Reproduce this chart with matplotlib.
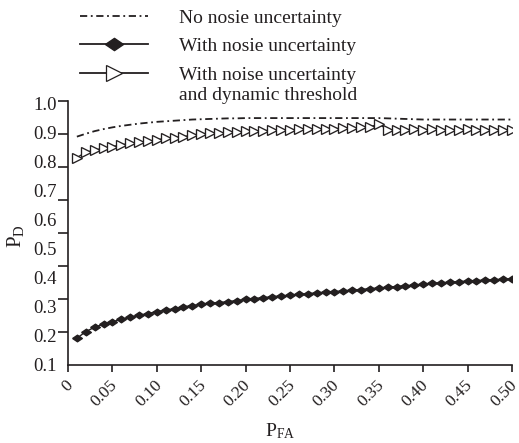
import numpy as np
import matplotlib
matplotlib.use("Agg")
import matplotlib.pyplot as plt
from matplotlib.lines import Line2D
from matplotlib.transforms import ScaledTranslation

plt.rcParams["font.family"] = ["Liberation Serif", "DejaVu Serif"]
plt.rcParams["mathtext.fontset"] = "custom"
plt.rcParams["mathtext.rm"] = "Liberation Serif"
plt.rcParams["mathtext.it"] = "Liberation Serif:italic"
plt.rcParams["font.size"] = 12

# False-alarm probability grid
pfa = [round(0.01 * k, 2) for k in range(1, 51)]

# Detection probability without noise uncertainty
pd_no_uncertainty = [
    0.887, 0.897, 0.906, 0.913, 0.919, 0.924, 0.928, 0.932, 0.935, 0.938,
    0.940, 0.942, 0.944, 0.946, 0.947, 0.948, 0.949, 0.950, 0.950, 0.951,
    0.951, 0.951, 0.951, 0.951, 0.951, 0.951, 0.951, 0.951, 0.951, 0.951,
    0.951, 0.951, 0.951, 0.951, 0.951, 0.950, 0.949, 0.948, 0.947, 0.946,
    0.946, 0.946, 0.946, 0.946, 0.946, 0.946, 0.946, 0.946, 0.946, 0.946,
]

# Detection probability with noise uncertainty
pd_uncertainty = [
    0.192, 0.215, 0.230, 0.241, 0.249, 0.257, 0.265, 0.271, 0.277, 0.284,
    0.289, 0.294, 0.300, 0.305, 0.309, 0.312, 0.315, 0.318, 0.322, 0.326,
    0.329, 0.332, 0.335, 0.338, 0.340, 0.343, 0.346, 0.348, 0.351, 0.353,
    0.355, 0.358, 0.360, 0.363, 0.365, 0.368, 0.370, 0.373, 0.375, 0.378,
    0.381, 0.383, 0.385, 0.387, 0.389, 0.391, 0.392, 0.394, 0.395, 0.397,
]

# Detection probability with noise uncertainty and dynamic threshold
pd_dynamic = [
    0.815, 0.833, 0.841, 0.847, 0.853, 0.859, 0.864, 0.868, 0.872, 0.876,
    0.882, 0.884, 0.887, 0.893, 0.897, 0.899, 0.900, 0.902, 0.903, 0.905,
    0.907, 0.908, 0.909, 0.910, 0.911, 0.912, 0.913, 0.914, 0.914, 0.915,
    0.916, 0.917, 0.919, 0.921, 0.930, 0.911, 0.910, 0.911, 0.912, 0.911,
    0.912, 0.911, 0.910, 0.911, 0.912, 0.911, 0.910, 0.911, 0.910, 0.910,
]

labels = [
    "No nosie uncertainty",
    "With nosie uncertainty",
    "With noise uncertainty",
]
label_extra = "and dynamic threshold"

x_ticks = [0, 0.05, 0.10, 0.15, 0.20, 0.25, 0.30, 0.35, 0.40, 0.45, 0.50]
x_ticklabels = ["0", "0.05", "0.10", "0.15", "0.20", "0.25", "0.30", "0.35", "0.40", "0.45", "0.50"]
y_ticks = [0.1, 0.2, 0.3, 0.4, 0.5, 0.6, 0.7, 0.8, 0.9, 1.0]
y_ticklabels = ["0.1", "0.2", "0.3", "0.4", "0.5", "0.6", "0.7", "0.8", "0.9", "1.0"]

ink = "#231f20"
# flattened diamond: wider than tall
flat_diamond = [(-1, 0), (0, 0.68), (1, 0), (0, -0.68), (-1, 0)]
dash_dot = (4, 2, 1, 2)

fig = plt.figure(figsize=(5.19, 4.43), dpi=100)
ax = fig.add_axes([0.131, 0.1761, 0.8555, 0.596])

ax.plot(pfa, pd_no_uncertainty, color=ink, lw=1.3, dashes=dash_dot)
ax.plot(pfa, pd_uncertainty, color=ink, lw=1.0, marker=flat_diamond,
        markersize=7, markerfacecolor=ink, markeredgecolor=ink)
ax.plot(pfa, pd_dynamic, color=ink, lw=0.9, marker=">", markersize=7,
        markerfacecolor="white", markeredgecolor=ink, markeredgewidth=0.95)

ax.set_xlim(0, 0.5)
ax.set_ylim(0.1, 1.01)

for side in ("top", "right"):
    ax.spines[side].set_visible(False)
for side in ("left", "bottom"):
    ax.spines[side].set_linewidth(1.2)
    ax.spines[side].set_color(ink)

ax.set_xticks(x_ticks)
ax.set_xticklabels(x_ticklabels, rotation=45, ha="right", va="top",
                   rotation_mode="anchor")
ax.tick_params(axis="x", which="major", length=5, width=1.2, pad=4,
               color=ink, labelcolor=ink, labelsize=12.5)
shift = ScaledTranslation(-3 / 100, 0, fig.dpi_scale_trans)
for lbl in ax.get_xticklabels():
    lbl.set_transform(lbl.get_transform() + shift)

# y labels sit on the value scale; the tick marks are drawn as 9 evenly
# spaced minor marks along the full spine
ax.set_yticks(y_ticks)
ax.set_yticklabels(y_ticklabels)
ax.tick_params(axis="y", which="major", length=0, pad=8,
               labelcolor=ink, labelsize=13.5)
y0, y1 = ax.get_ylim()
ax.set_yticks(np.linspace(y0, y1, 9), minor=True)
ax.tick_params(axis="y", which="minor", length=7, width=1.2, color=ink)

ax.set_xlabel(r"$\mathrm{P}_{\mathrm{FA}}$", fontsize=14, color=ink)
ax.xaxis.set_label_coords(0.477, -0.215)
ax.set_ylabel(r"$\mathrm{P}_{\mathrm{D}}$", fontsize=15, color=ink)
ax.yaxis.set_label_coords(-0.095, 0.49)

handles = [
    Line2D([], [], color=ink, lw=1.3, dashes=dash_dot),
    Line2D([], [], color=ink, lw=1.3, marker=flat_diamond, markersize=13,
           markerfacecolor=ink, markeredgecolor=ink),
    Line2D([], [], color=ink, lw=1.3, marker=">", markersize=11,
           markerfacecolor="white", markeredgecolor=ink, markeredgewidth=0.9),
]
leg = fig.legend(handles, labels, loc="upper left",
                 bbox_to_anchor=(80 / 519, 1 - 9 / 443), frameon=False,
                 handlelength=3.5, handletextpad=1.6, labelspacing=0.56,
                 borderpad=0, borderaxespad=0, fontsize=14)
for t in leg.get_texts():
    t.set_color(ink)

fig.canvas.draw()
bb = leg.get_texts()[2].get_window_extent()
fx, fy = fig.transFigure.inverted().transform((bb.x0, bb.y0))
fig.text(fx, fy - 20 / 443, label_extra, ha="left", va="bottom",
         fontsize=14, color=ink)

fig.savefig("out.png", dpi=100)
